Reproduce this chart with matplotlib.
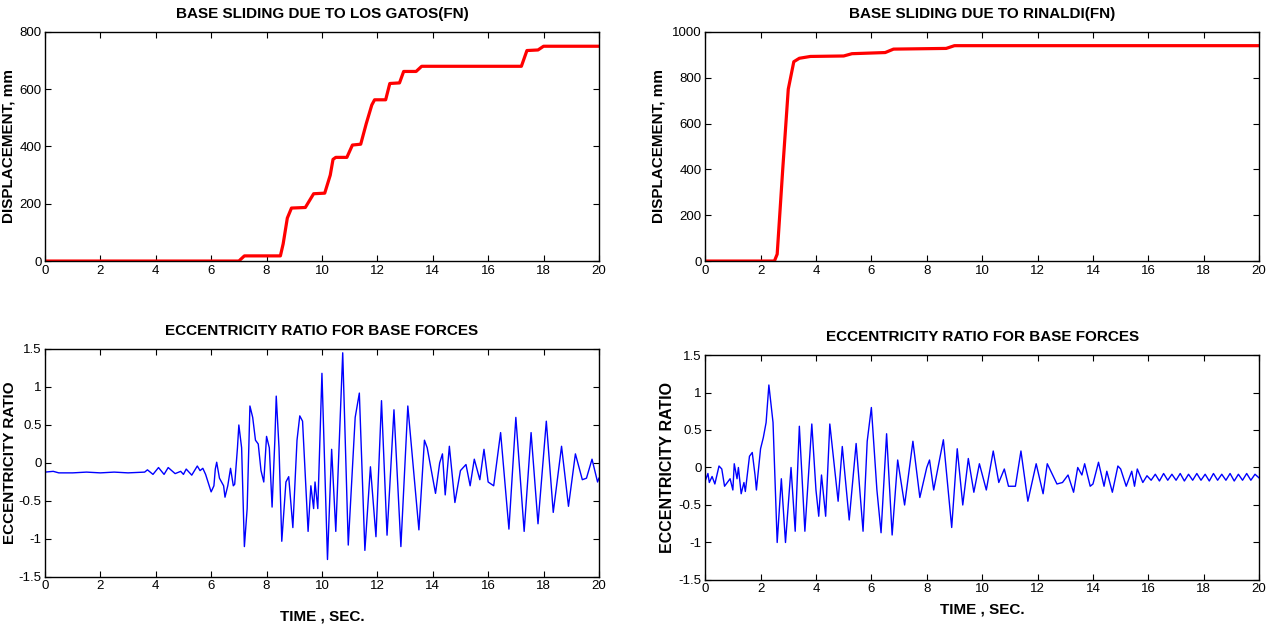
import matplotlib
matplotlib.use("Agg")
import matplotlib.pyplot as plt


# --------------------------------------------------
# FONTS AND STYLE
# --------------------------------------------------

plt.rcParams["font.family"] = ["Liberation Sans", "DejaVu Sans"]
plt.rcParams["xtick.direction"] = "in"
plt.rcParams["ytick.direction"] = "in"
plt.rcParams["xtick.top"] = True
plt.rcParams["ytick.right"] = True


# --------------------------------------------------
# DATA
# --------------------------------------------------

# base sliding, Los Gatos (FN)
gatos_t = [0, 7.0, 7.2, 8.5, 8.6, 8.75, 8.9, 9.4, 9.7, 10.1, 10.3, 10.4, 10.5,
           10.9, 11.1, 11.4, 11.6, 11.8, 11.9, 12.3, 12.45, 12.8, 12.95, 13.4,
           13.6, 17.2, 17.4, 17.8, 18.0, 20]
gatos_d = [0, 0, 18, 18, 60, 150, 185, 187, 235, 237, 300, 355, 362,
           362, 405, 408, 480, 545, 563, 563, 620, 622, 662, 662,
           680, 680, 735, 737, 750, 750]

# base sliding, Rinaldi (FN)
rinaldi_t = [0, 2.5, 2.6, 2.8, 3.0, 3.2, 3.4, 3.8, 5.0, 5.3, 6.5, 6.8, 8.7, 9.0, 20]
rinaldi_d = [0, 0, 30, 400, 750, 870, 885, 893, 895, 905, 910, 925, 928, 940, 940]

# eccentricity ratio, Los Gatos
ecc_l_t = [0, 0.3, 0.5, 1.0, 1.5, 2.0, 2.5, 3.0, 3.6, 3.7, 3.9, 4.1, 4.3, 4.45,
           4.7, 4.9, 5.0, 5.1, 5.3, 5.5, 5.6, 5.7, 5.8, 6.0, 6.1, 6.15, 6.2,
           6.3, 6.45, 6.5, 6.6, 6.7, 6.8, 6.85, 6.95, 7.0, 7.1, 7.2, 7.3, 7.4,
           7.5, 7.6, 7.7, 7.8, 7.9, 8.0, 8.1, 8.2, 8.3, 8.35, 8.45, 8.55, 8.7,
           8.8, 8.95, 9.1, 9.2, 9.3, 9.5, 9.6, 9.7, 9.75, 9.85, 10.0, 10.2,
           10.35, 10.5, 10.75, 10.95, 11.2, 11.35, 11.55, 11.75, 11.95, 12.15,
           12.35, 12.45, 12.6, 12.85, 13.1, 13.5, 13.7, 13.8, 14.1, 14.25,
           14.35, 14.45, 14.6, 14.8, 15.0, 15.2, 15.35, 15.5, 15.7, 15.85,
           16.0, 16.2, 16.45, 16.75, 17.0, 17.3, 17.55, 17.8, 18.1, 18.35,
           18.65, 18.9, 19.15, 19.4, 19.55, 19.75, 19.95, 20]
ecc_l_v = [-0.12, -0.11, -0.13, -0.13, -0.12, -0.13, -0.12, -0.13, -0.12, -0.09,
           -0.15, -0.06, -0.15, -0.06, -0.14, -0.11, -0.15, -0.08, -0.16, -0.04,
           -0.10, -0.07, -0.15, -0.38, -0.30, -0.08, 0.01, -0.20, -0.30, -0.45,
           -0.30, -0.07, -0.30, -0.28, 0.20, 0.50, 0.20, -1.10, -0.60, 0.75,
           0.60, 0.30, 0.25, -0.10, -0.25, 0.35, 0.20, -0.58, 0.30, 0.88,
           0.20, -1.03, -0.25, -0.18, -0.85, 0.30, 0.62, 0.55, -0.90, -0.30,
           -0.60, -0.25, -0.60, 1.18, -1.27, 0.18, -0.90, 1.45, -1.08, 0.60,
           0.92, -1.15, -0.05, -0.97, 0.82, -0.95, -0.30, 0.70, -1.10, 0.75,
           -0.88, 0.30, 0.20, -0.40, 0.00, 0.12, -0.42, 0.22, -0.52, -0.10,
           -0.02, -0.30, 0.05, -0.22, 0.18, -0.25, -0.30, 0.40, -0.87, 0.60,
           -0.90, 0.40, -0.80, 0.55, -0.65, 0.22, -0.57, 0.12, -0.22, -0.20,
           0.05, -0.25, -0.20]

# eccentricity ratio, Rinaldi
ecc_r_t = [0, 0.1, 0.15, 0.25, 0.35, 0.5, 0.6, 0.7, 0.8, 0.9, 1.0, 1.05, 1.15,
           1.2, 1.3, 1.4, 1.45, 1.6, 1.7, 1.8, 1.85, 2.0, 2.1, 2.2, 2.3, 2.45,
           2.6, 2.75, 2.9, 3.0, 3.1, 3.25, 3.4, 3.6, 3.85, 4.0, 4.1, 4.2, 4.35,
           4.5, 4.8, 4.95, 5.2, 5.45, 5.7, 5.85, 6.0, 6.2, 6.35, 6.55, 6.75,
           6.95, 7.2, 7.5, 7.75, 8.0, 8.1, 8.25, 8.6, 8.9, 9.1, 9.3, 9.5, 9.7,
           9.9, 10.15, 10.4, 10.6, 10.8, 10.95, 11.2, 11.4, 11.65, 11.95, 12.2,
           12.35, 12.7, 12.9, 13.1, 13.3, 13.45, 13.6, 13.7, 13.9, 14.0, 14.2,
           14.4, 14.5, 14.7, 14.9, 15.0, 15.2, 15.4, 15.5, 15.6, 15.8, 15.95,
           16.1, 16.25, 16.4, 16.55, 16.7, 16.85, 17.0, 17.15, 17.3, 17.45,
           17.6, 17.75, 17.9, 18.05, 18.2, 18.35, 18.5, 18.65, 18.8, 18.95,
           19.1, 19.25, 19.4, 19.55, 19.7, 19.85, 20]
ecc_r_v = [-0.18, -0.08, -0.20, -0.12, -0.22, 0.02, -0.02, -0.25, -0.20, -0.15,
           -0.30, 0.05, -0.15, 0.00, -0.35, -0.20, -0.32, 0.15, 0.20, -0.10,
           -0.30, 0.25, 0.40, 0.60, 1.10, 0.60, -1.00, -0.15, -1.00, -0.50,
           0.00, -0.85, 0.55, -0.85, 0.58, -0.30, -0.65, -0.10, -0.65, 0.58,
           -0.45, 0.28, -0.70, 0.32, -0.85, 0.35, 0.80, -0.30, -0.87, 0.45,
           -0.90, 0.10, -0.50, 0.35, -0.40, 0.00, 0.10, -0.30, 0.37, -0.80,
           0.25, -0.50, 0.12, -0.33, 0.05, -0.30, 0.22, -0.20, -0.02, -0.25,
           -0.25, 0.22, -0.45, 0.05, -0.35, 0.05, -0.22, -0.20, -0.10, -0.33,
           0.00, -0.10, 0.05, -0.25, -0.22, 0.07, -0.25, -0.05, -0.33, 0.02,
           -0.02, -0.25, -0.05, -0.25, -0.02, -0.20, -0.11, -0.17, -0.09, -0.18,
           -0.08, -0.17, -0.09, -0.17, -0.08, -0.18, -0.09, -0.17, -0.08, -0.17,
           -0.09, -0.18, -0.08, -0.17, -0.09, -0.17, -0.08, -0.18, -0.09, -0.17,
           -0.08, -0.17, -0.09, -0.14]

titel_disp = ["BASE SLIDING DUE TO LOS GATOS(FN)", "BASE SLIDING DUE TO RINALDI(FN)"]
titel_ecc = "ECCENTRICITY RATIO FOR BASE FORCES"
x_ticks = list(range(0, 21, 2))


# --------------------------------------------------
# FIGURE
# --------------------------------------------------

fig = plt.figure(figsize=(12.66, 6.26), dpi=100)

ax_tl = fig.add_axes([0.0355, 0.583, 0.4376, 0.366])
ax_tr = fig.add_axes([0.557, 0.583, 0.4376, 0.366])
ax_bl = fig.add_axes([0.0355, 0.0783, 0.4376, 0.3642])
ax_br = fig.add_axes([0.557, 0.0735, 0.4376, 0.3594])

ax_tl.plot(gatos_t, gatos_d, color="red", linewidth=2.3)
ax_tr.plot(rinaldi_t, rinaldi_d, color="red", linewidth=2.3)
ax_bl.plot(ecc_l_t, ecc_l_v, color="blue", linewidth=1.0)
ax_br.plot(ecc_r_t, ecc_r_v, color="blue", linewidth=1.0)

ax_tl.set_ylim(0, 800)
ax_tl.set_yticks(range(0, 801, 200))
ax_tr.set_ylim(0, 1000)
ax_tr.set_yticks(range(0, 1001, 200))

for ax in (ax_bl, ax_br):
    ax.set_ylim(-1.5, 1.5)
    ax.set_yticks([-1.5, -1, -0.5, 0, 0.5, 1, 1.5])
    ax.set_yticklabels(["-1.5", "-1", "-0.5", "0", "0.5", "1", "1.5"])
    ax.set_title(titel_ecc, fontsize=11, fontweight="bold", pad=10)
    ax.set_xlabel("TIME , SEC.", fontsize=11, fontweight="bold", labelpad=12)

ax_bl.set_ylabel("ECCENTRICITY RATIO", fontsize=11, fontweight="bold", labelpad=1)
ax_br.set_ylabel("ECCENTRICITY RATIO", fontsize=11.5, fontweight="bold", labelpad=3)

for ax, titel in zip((ax_tl, ax_tr), titel_disp):
    ax.set_title(titel, fontsize=11, fontweight="bold", pad=10)

ax_tl.set_ylabel("DISPLACEMENT, mm", fontsize=11, fontweight="bold", labelpad=3)
ax_tr.set_ylabel("DISPLACEMENT, mm", fontsize=11, fontweight="bold", labelpad=5)

for ax in (ax_tl, ax_tr, ax_bl, ax_br):
    ax.set_xlim(0, 20)
    ax.set_xticks(x_ticks)
    ax.tick_params(labelsize=9.5, length=4, width=0.8, pad=2.5)
    for spine in ax.spines.values():
        spine.set_linewidth(1.0)

ax_br.xaxis.labelpad = 5

plt.savefig("out.png", dpi=100)
plt.close()
